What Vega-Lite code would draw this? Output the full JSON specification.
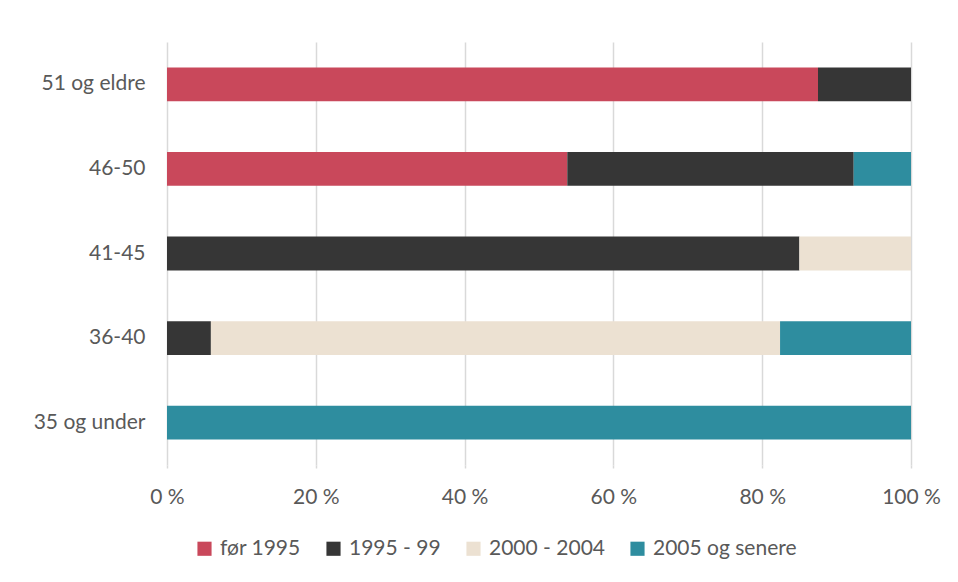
{
  "$schema": "https://vega.github.io/schema/vega-lite/v6.json",
  "autosize": "none",
  "width": 744,
  "height": 423,
  "padding": {"left": 167, "top": 42, "right": 47, "bottom": 117},
  "background": "white",
  "config": {
    "font": "Lato",
    "view": {"stroke": null},
    "axis": {"labelFont": "Lato", "labelColor": "#595959", "labelFontSize": 21}
  },
  "data": {
    "values": [
      {"alder": "51 og eldre", "periode": "før 1995", "k": 1, "andel": 87.5},
      {"alder": "51 og eldre", "periode": "1995 - 99", "k": 2, "andel": 12.5},
      {"alder": "46-50", "periode": "før 1995", "k": 1, "andel": 53.8},
      {"alder": "46-50", "periode": "1995 - 99", "k": 2, "andel": 38.5},
      {"alder": "46-50", "periode": "2005 og senere", "k": 4, "andel": 7.7},
      {"alder": "41-45", "periode": "1995 - 99", "k": 2, "andel": 85},
      {"alder": "41-45", "periode": "2000 - 2004", "k": 3, "andel": 15},
      {"alder": "36-40", "periode": "1995 - 99", "k": 2, "andel": 5.9},
      {"alder": "36-40", "periode": "2000 - 2004", "k": 3, "andel": 76.5},
      {"alder": "36-40", "periode": "2005 og senere", "k": 4, "andel": 17.6},
      {"alder": "35 og under", "periode": "2005 og senere", "k": 4, "andel": 100}
    ]
  },
  "mark": {"type": "bar"},
  "encoding": {
    "y": {
      "field": "alder",
      "type": "nominal",
      "sort": ["51 og eldre", "46-50", "41-45", "36-40", "35 og under"],
      "scale": {"paddingInner": 0.6, "paddingOuter": 0.3},
      "axis": {"title": null, "domain": false, "ticks": false, "labelPadding": 22, "grid": false}
    },
    "x": {
      "field": "andel",
      "type": "quantitative",
      "stack": "zero",
      "scale": {"domain": [0, 100]},
      "axis": {
        "title": null,
        "values": [0, 20, 40, 60, 80, 100],
        "labelExpr": "datum.value + ' %'",
        "labelFlush": false,
        "labelBound": false,
        "labelOverlap": false,
        "domain": false,
        "ticks": true,
        "tickColor": "#d9d9d9",
        "tickWidth": 1.5,
        "tickSize": 3,
        "gridColor": "#d9d9d9",
        "gridWidth": 1.5,
        "labelPadding": 18
      }
    },
    "color": {
      "field": "periode",
      "type": "nominal",
      "scale": {
        "domain": ["før 1995", "1995 - 99", "2000 - 2004", "2005 og senere"],
        "range": ["#C9485B", "#363636", "#ECE1D2", "#2E8D9F"]
      },
      "legend": {
        "title": null,
        "orient": "none",
        "legendX": 27,
        "legendY": 496,
        "direction": "horizontal",
        "symbolType": "square",
        "symbolSize": 200,
        "symbolStrokeWidth": 0,
        "labelFontSize": 21,
        "labelColor": "#595959",
        "labelFont": "Lato",
        "labelOffset": 5,
        "columnPadding": 22
      }
    },
    "order": {"field": "k", "type": "quantitative", "sort": "ascending"}
  }
}
